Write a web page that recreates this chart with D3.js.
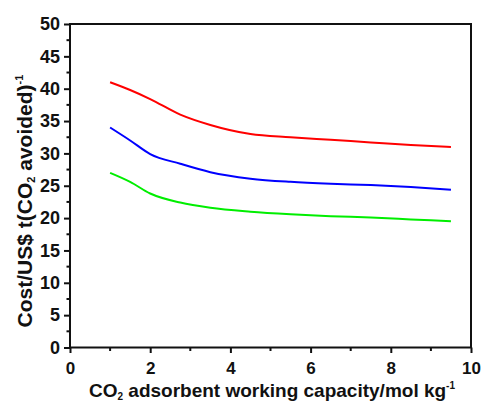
<!DOCTYPE html>
<head>
  <meta charset="utf-8" />
  <script src="https://cdn.jsdelivr.net/npm/d3@7"></script>
  <style>
    body { margin: 0; background: #fff; }
    text { font-family: "Liberation Sans", Arial, sans-serif; font-weight: bold; fill: #111; }
  </style>
</head>
<body>
  <svg class="chart" width="481" height="405"></svg>
  <script>
    // capacity (mol/kg) and cost (US$ per t CO2 avoided)
    const capacity = [1, 1.5, 2, 2.75, 3.5, 4.5, 5.5, 6.5, 7.5, 8.5, 9.5];
    const costRed = [41, 39.8, 38.4, 36, 34.4, 33.0, 32.5, 32.1, 31.7, 31.3, 31.0];
    const costBlue = [34, 32, 29.9, 28.4, 27.1, 26.1, 25.6, 25.3, 25.1, 24.8, 24.4];
    const costGreen = [27, 25.6, 23.8, 22.4, 21.6, 21.0, 20.6, 20.3, 20.1, 19.8, 19.5];
    const xTicks = [0, 2, 4, 6, 8, 10];
    const yTicks = [0, 5, 10, 15, 20, 25, 30, 35, 40, 45, 50];

    const series = [
      { color: "#ff0000", values: costRed },
      { color: "#0000ff", values: costBlue },
      { color: "#00ee00", values: costGreen }
    ];

    const plot = { left: 70, right: 471, top: 24, bottom: 347.5 };
    const svg = d3.select(".chart");
    const x = d3.scaleLinear().domain([0, 10]).range([plot.left, plot.right]);
    const y = d3.scaleLinear().domain([0, 50]).range([plot.bottom, plot.top]);

    // minor ticks
    const g = svg.append("g");
    g.selectAll(".xminor")
      .data([1, 3, 5, 7, 9])
      .enter()
      .append("line")
      .attr("x1", (d) => x(d)).attr("x2", (d) => x(d))
      .attr("y1", plot.bottom).attr("y2", plot.bottom + 3.5)
      .attr("stroke", "#111").attr("stroke-width", 2);
    g.selectAll(".yminor")
      .data(d3.range(2.5, 50, 5))
      .enter()
      .append("line")
      .attr("x1", plot.left - 3.5).attr("x2", plot.left)
      .attr("y1", (d) => y(d)).attr("y2", (d) => y(d))
      .attr("stroke", "#111").attr("stroke-width", 2);

    const xAxis = svg.append("g")
      .attr("transform", `translate(0,${plot.bottom})`)
      .call(d3.axisBottom(x).tickValues(xTicks).tickSize(5.5).tickPadding(8.5).tickSizeOuter(0));
    const yAxis = svg.append("g")
      .attr("transform", `translate(${plot.left},0)`)
      .call(d3.axisLeft(y).tickValues(yTicks).tickSize(6).tickPadding(4).tickSizeOuter(0));

    [xAxis, yAxis].forEach((a) => {
      a.select(".domain").remove();
      a.selectAll(".tick line").attr("stroke", "#111").attr("stroke-width", 2);
      a.selectAll(".tick text").attr("fill", "#111");
    });
    xAxis.selectAll(".tick text").attr("font-size", 17);
    yAxis.selectAll(".tick text").attr("font-size", 18);

    // frame
    svg.append("rect")
      .attr("x", plot.left).attr("y", plot.top)
      .attr("width", plot.right - plot.left).attr("height", plot.bottom - plot.top)
      .attr("fill", "none").attr("stroke", "#111").attr("stroke-width", 2);

    const line = d3.line()
      .x((d, i) => x(capacity[i]))
      .y((d) => y(d))
      .curve(d3.curveMonotoneX);

    svg.selectAll(".series")
      .data(series)
      .enter()
      .append("path")
      .attr("d", (d) => line(d.values))
      .attr("fill", "none")
      .attr("stroke", (d) => d.color)
      .attr("stroke-width", 2);

    // axis titles
    const xt = svg.append("text")
      .attr("x", 272).attr("y", 396.5)
      .attr("text-anchor", "middle")
      .attr("font-size", 19);
    xt.append("tspan").text("CO");
    xt.append("tspan").text("2").attr("font-size", 10).attr("dy", 3);
    xt.append("tspan").text(" adsorbent working capacity/mol kg").attr("dy", -3);
    xt.append("tspan").text("-1").attr("font-size", 10).attr("dy", -8);

    const yt = svg.append("text")
      .attr("transform", "translate(32,201) rotate(-90)")
      .attr("text-anchor", "middle")
      .attr("font-size", 21);
    yt.append("tspan").text("Cost/US$ t(CO");
    yt.append("tspan").text("2").attr("font-size", 11).attr("dy", 3);
    yt.append("tspan").text(" avoided)").attr("dy", -3);
    yt.append("tspan").text("-1").attr("font-size", 11).attr("dy", -9);
  </script>
</body>
